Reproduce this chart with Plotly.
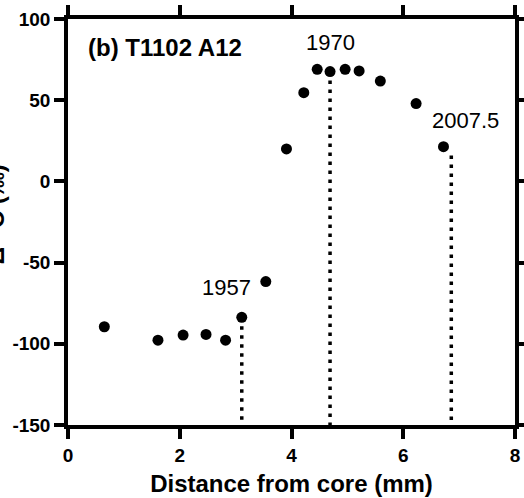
import plotly.graph_objects as go

# Data
distance_mm = [0.65, 1.61, 2.06, 2.47, 2.82, 3.11, 3.54, 3.91, 4.22, 4.46, 4.69, 4.96, 5.21, 5.59, 6.23, 6.72]
delta14c = [-89.5, -97.8, -94.6, -94.2, -97.8, -83.7, -61.7, 20.0, 54.6, 69.0, 67.6, 69.0, 68.0, 61.8, 47.9, 21.4]

marker_years = ["1957", "1970", "2007.5"]
drop_x = [3.11, 4.69, 6.86]
drop_top = [-83.7, 67.6, 16.0]
axis_bottom = -150

x_ticks = [0, 2, 4, 6, 8]
y_ticks = [-150, -100, -50, 0, 50, 100]

FONT = "Liberation Sans, Arial, Helvetica, sans-serif"

fig = go.Figure()

# dotted drop lines
for xv, top in zip(drop_x, drop_top):
    fig.add_trace(go.Scatter(
        x=[xv, xv], y=[top, axis_bottom], mode="lines",
        line=dict(color="black", width=3.5, dash="3.5px,5.5px"),
        hoverinfo="skip", showlegend=False, cliponaxis=False))

fig.add_trace(go.Scatter(
    x=distance_mm, y=delta14c, mode="markers",
    marker=dict(color="black", size=11),
    showlegend=False))

# Year labels
label_pos = [(2.84, -65.3), (4.69, 85.8), (7.12, 37.2)]
for txt, (lx, ly) in zip(marker_years, label_pos):
    fig.add_annotation(x=lx, y=ly, text=txt, showarrow=False,
                       xanchor="center", yanchor="middle",
                       font=dict(family=FONT, size=22, color="black"))

fig.add_annotation(x=0.33, y=82.5, text="<b>(b) T1102 A12</b>", showarrow=False,
                   xanchor="left", yanchor="middle",
                   font=dict(family=FONT, size=24, color="black"))

# y-axis title, mostly cut off at the left edge like the reference
fig.add_annotation(xref="paper", yref="paper", x=-0.165, y=0.52,
                   text="<b>Δ<sup>14</sup>C (‰)</b>", textangle=-90, showarrow=False,
                   xanchor="center", yanchor="middle",
                   font=dict(family=FONT, size=24, color="black"))

axis_common = dict(
    showline=True, linecolor="black", linewidth=3.5,
    ticks="outside", ticklen=10, tickwidth=3.5, tickcolor="black",
    mirror="ticks", showgrid=False, zeroline=False,
    tickfont=dict(family=FONT, size=19, color="black", weight="bold"),
)

fig.update_xaxes(range=[0, 8], tickvals=x_ticks, ticktext=[f"<b>{v}</b>" for v in x_ticks],
                 title=dict(text="<b>Distance from core (mm)</b>",
                            font=dict(family=FONT, size=24, color="black"), standoff=12),
                 **axis_common)
fig.update_yaxes(range=[-150, 100], tickvals=y_ticks, ticktext=[f"<b>{v}</b>" for v in y_ticks],
                 **axis_common)

fig.update_layout(
    width=524, height=498,
    margin=dict(l=68, r=9, t=19, b=73, autoexpand=False),
    paper_bgcolor="white", plot_bgcolor="white",
    font=dict(family=FONT, color="black"),
)

fig.write_html("out.html")
